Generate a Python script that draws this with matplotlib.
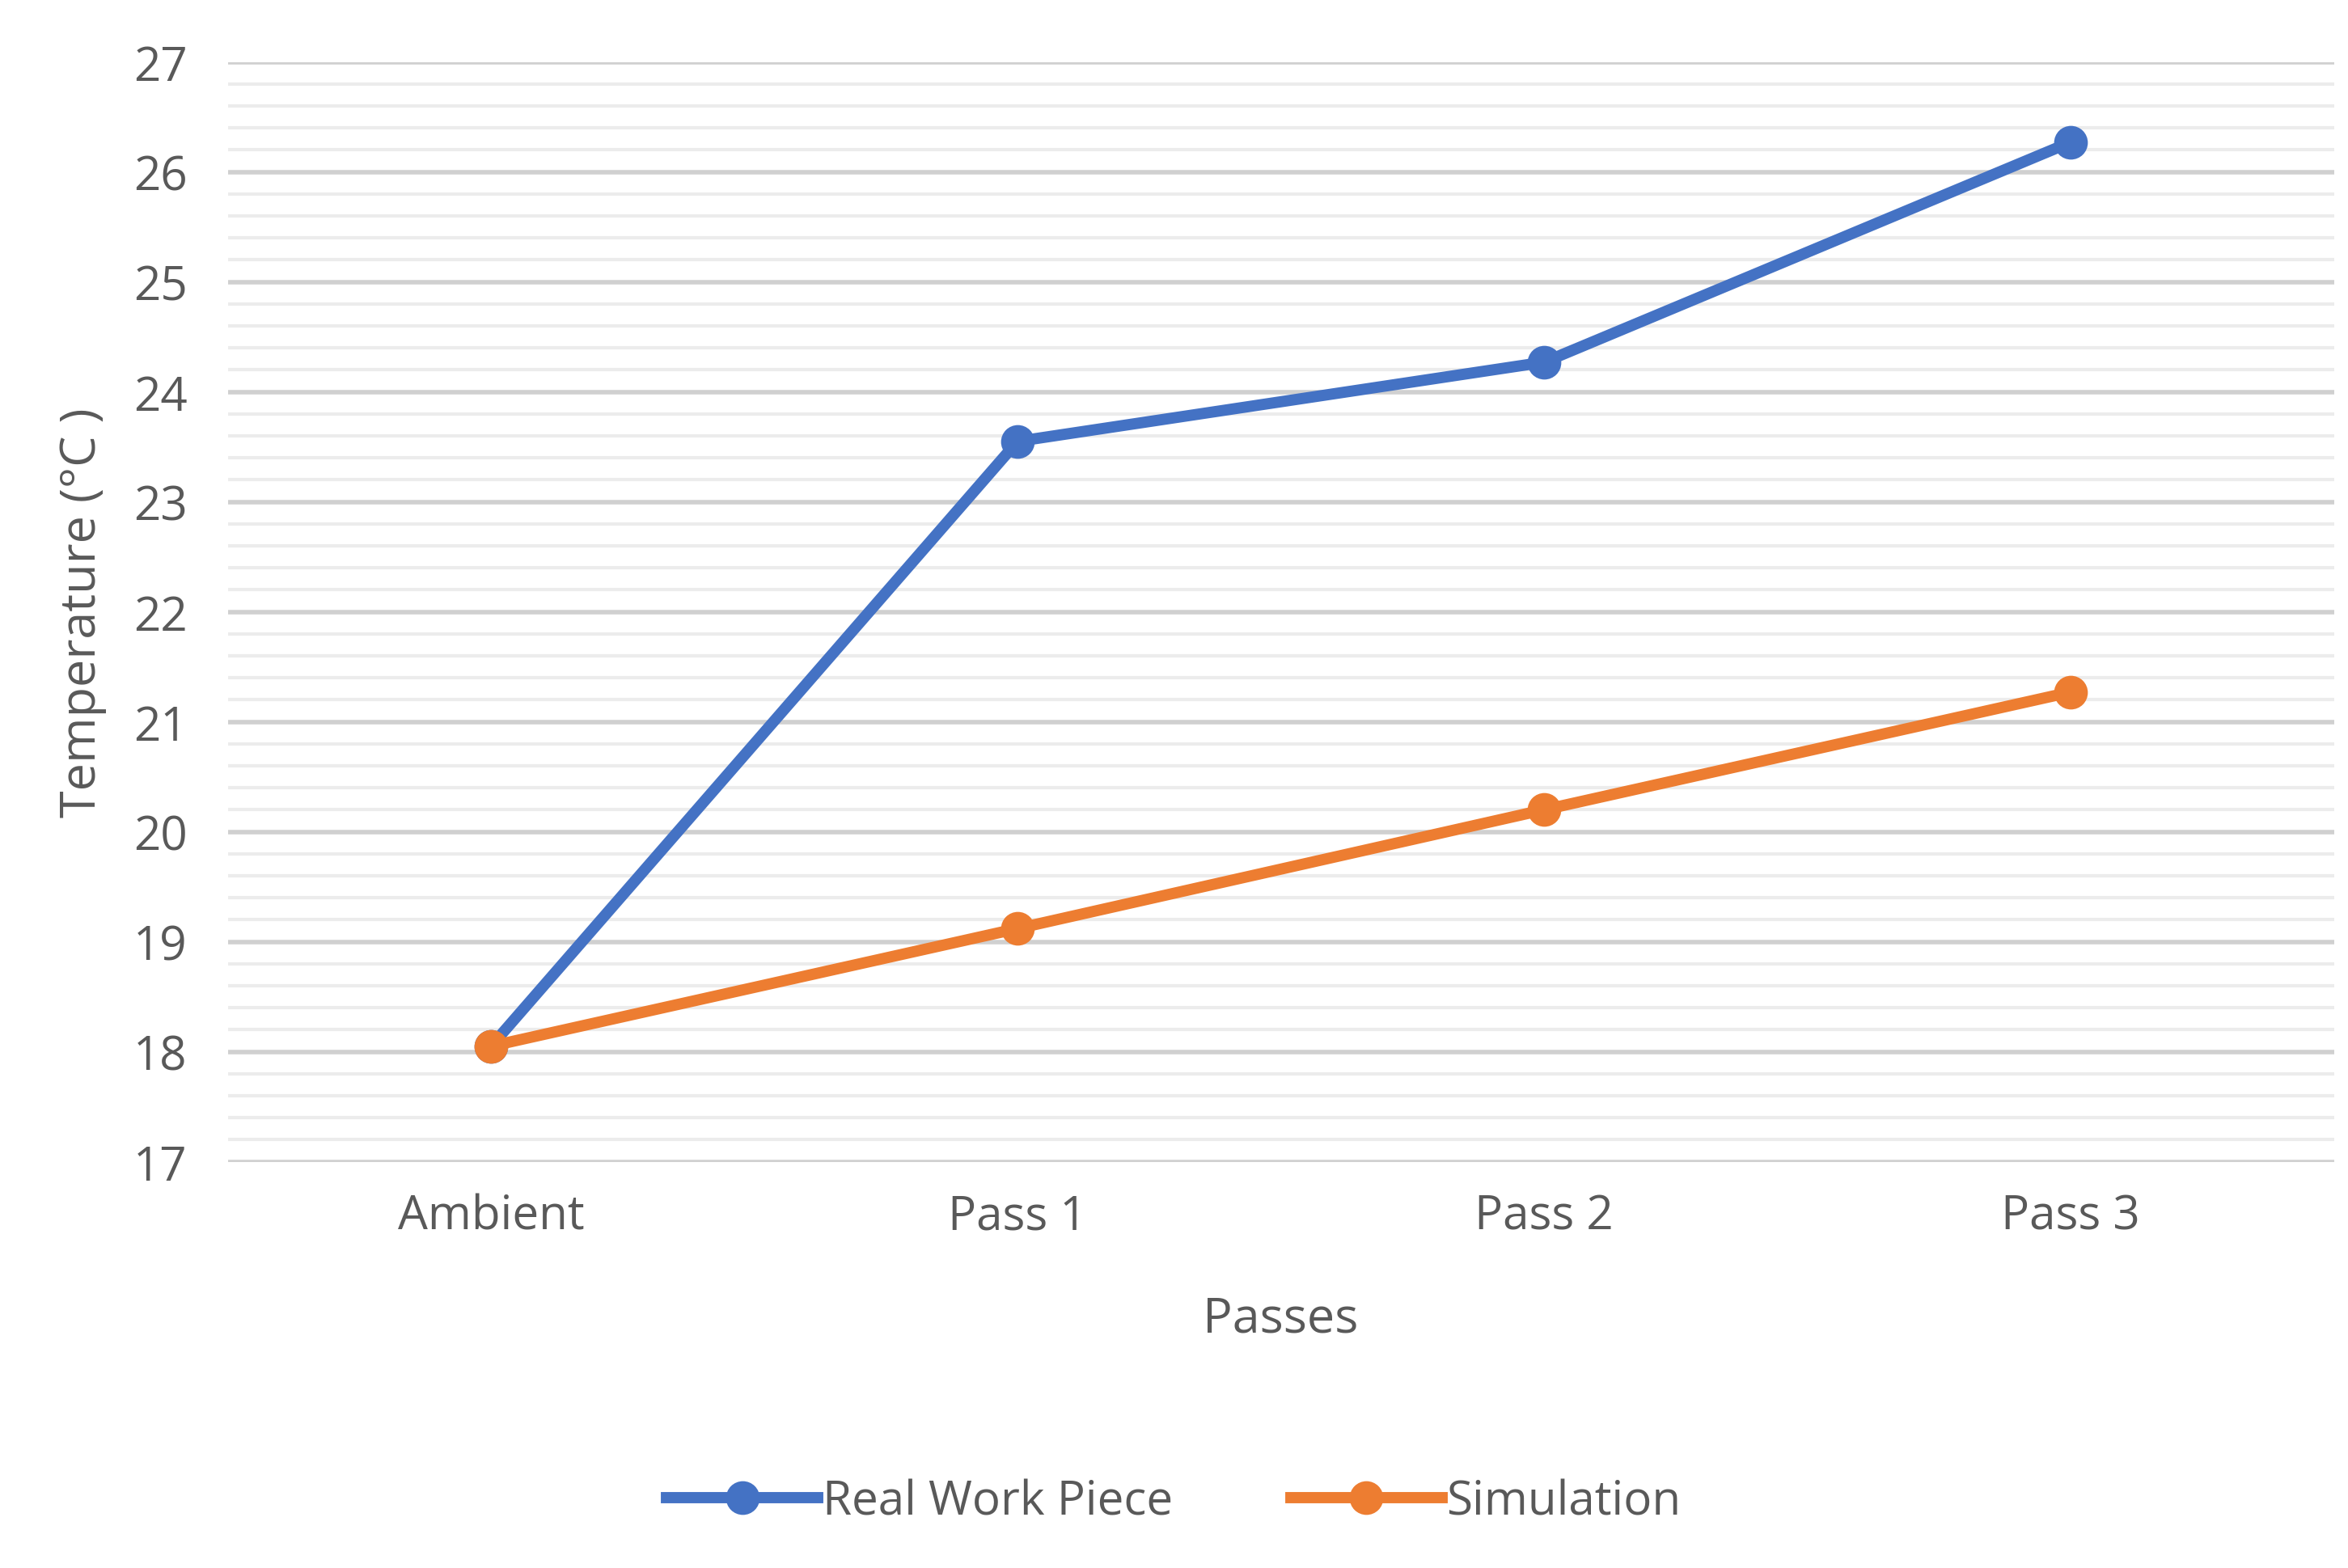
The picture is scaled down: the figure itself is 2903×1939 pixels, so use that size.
import matplotlib.pyplot as plt
import numpy as np

plt.rcParams['font.family'] = ['Open Sans', 'DejaVu Sans']

passes = ["Ambient", "Pass 1", "Pass 2", "Pass 3"]
real_piece = [18.05, 23.55, 24.27, 26.27]
simulation = [18.05, 19.12, 20.2, 21.27]

fig = plt.figure(figsize=(14.515, 9.7), dpi=200)
ax = fig.add_axes([0.097, 0.259, 0.897, 0.701])

x = np.arange(len(passes))
ax.plot(x, real_piece, '-o', color='#4472C4', lw=5, ms=14, label='Real Work Piece', zorder=3)
ax.plot(x, simulation, '-o', color='#ED7D31', lw=5, ms=14, label='Simulation', zorder=3)

ax.set_ylim(17, 27)
ax.set_xlim(-0.5, 3.5)
ax.set_yticks(range(17, 28))
ax.set_yticks(np.arange(17, 27.01, 0.2), minor=True)
ax.grid(axis='y', which='major', color='#d0d0d0', lw=2)
ax.grid(axis='y', which='minor', color='#ececec', lw=1.5)
ax.set_axisbelow(True)
ax.set_xticks(x)
ax.set_xticklabels(passes)
ax.tick_params(which='both', length=0, labelsize=21, colors='#595959', pad=14)
ax.tick_params(axis='y', pad=18)
for s in ax.spines.values():
    s.set_visible(False)

ax.set_xlabel("Passes", fontsize=22, color='#595959', labelpad=24)
ax.set_ylabel("Temperature (°C )", fontsize=22, color='#595959', labelpad=12)

fig.legend(loc='lower center', bbox_to_anchor=(0.5, 0.0), ncol=2, frameon=False,
           fontsize=21, labelcolor='#595959', handlelength=3.2, handletextpad=0.1,
           columnspacing=2.5)

fig.savefig('out.png', dpi=200, facecolor='white')
